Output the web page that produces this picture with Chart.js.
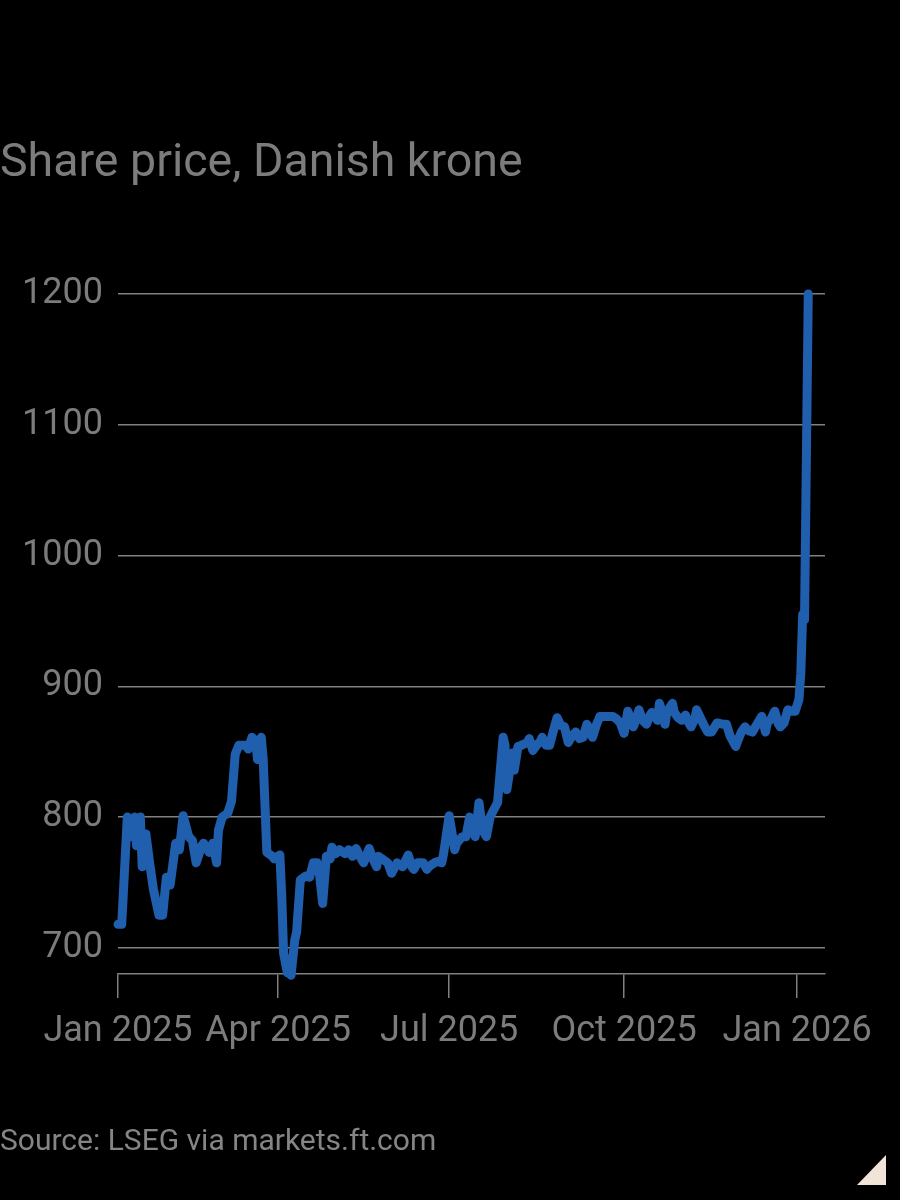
<!DOCTYPE html>
<html>
<head>
<meta charset="utf-8">
<script src="https://cdn.jsdelivr.net/npm/chart.js@4.4.1/dist/chart.umd.min.js"></script>
<style>
  html, body { margin: 0; padding: 0; background: #000; }
  #wrap { position: relative; width: 900px; height: 1200px; background: #000; overflow: hidden; }
  #chart { position: absolute; left: 0; top: 0; }
  .txt { position: absolute; left: 0; font-family: Roboto, "Open Sans", sans-serif; color: #7c7c7c; white-space: nowrap; }
  #title { top: 137px; font-size: 46.5px; line-height: 46px; }
  #source { top: 1125px; font-size: 30px; line-height: 30px; color: #858585; }
  #corner { position: absolute; left: 857px; top: 1155px; width: 29px; height: 30px;
            background: #f1e5da; clip-path: polygon(100% 0, 100% 100%, 0 100%); }
</style>
</head>
<body>
<div id="wrap">
  <canvas id="chart" width="900" height="1200"></canvas>
  <div id="title" class="txt">Share price, Danish krone</div>
  <div id="source" class="txt">Source: LSEG via markets.ft.com</div>
  <div id="corner"></div>
</div>
<script>
  // x positions are days from the start of Jan 2025
  const days = [
    0, 2, 5, 7, 9, 10, 12, 13, 15, 17, 19, 22, 24, 26, 28, 31, 33, 35, 38, 40,
    42, 45, 46, 49, 51, 53, 54, 56, 59, 61, 63, 65, 69, 70, 72, 74, 75, 76, 77, 78,
    80, 83, 84, 87, 88, 89, 91, 92, 93, 95, 96, 98, 101, 103, 105, 107, 108, 110, 112, 114,
    115, 117, 119, 122, 124, 126, 128, 130, 132, 135, 137, 139, 140, 142, 145, 147, 150, 153, 156, 158,
    159, 161, 164, 166, 167, 170, 172, 174, 175, 178, 181, 182, 185, 187, 189, 192, 194, 196, 198, 200,
    201, 204, 207, 208, 209, 212, 213, 215, 217, 220, 221, 223, 225, 227, 228, 230, 232, 234, 236, 238,
    240, 242, 244, 246, 248, 250, 252, 254, 255, 257, 259, 262, 266, 268, 270, 272, 274, 277, 279, 280,
    282, 284, 286, 287, 290, 291, 293, 294, 295, 298, 299, 301, 303, 305, 306, 308, 310, 311, 313, 315,
    317, 319, 322, 325, 327, 329, 332, 333, 335, 337, 339, 341, 343, 346, 348, 349, 351, 353, 355, 356,
    358, 360, 362, 364, 366, 367, 368, 369, 371
  ];
  const prices = [
    718, 718, 800, 785, 800, 778, 800, 762, 787, 765, 745, 725, 725, 754, 748, 780, 775, 801, 785, 782,
    765, 778, 780, 773, 780, 765, 790, 800, 803, 812, 848, 855, 855, 852, 861, 858, 844, 858, 861, 845,
    773, 770, 768, 771, 740, 696, 681, 690, 679, 706, 712, 752, 755, 754, 765, 765, 760, 734, 770, 768,
    777, 772, 775, 772, 775, 770, 776, 770, 765, 776, 768, 762, 770, 768, 765, 757, 765, 762, 771, 762,
    760, 765, 765, 760, 762, 765, 766, 765, 772, 801, 775, 780, 785, 785, 800, 785, 811, 790, 785, 800,
    803, 811, 861, 855, 821, 849, 836, 854, 855, 857, 860, 851, 855, 858, 861, 855, 855, 866, 876, 870,
    869, 857, 862, 865, 860, 861, 871, 866, 861, 870, 877, 877, 877, 875, 872, 864, 881, 869, 877, 882,
    874, 871, 878, 880, 874, 887, 878, 871, 880, 887, 880, 876, 874, 878, 874, 869, 875, 882, 876, 870,
    865, 865, 872, 871, 871, 862, 854, 858, 865, 869, 866, 865, 870, 877, 865, 872, 875, 881, 871, 869,
    872, 882, 881, 881, 890, 910, 955, 951, 1200
  ];
  const tickDays = [0, 86, 178, 272, 365];
  const tickLabels = ["Jan 2025", "Apr 2025", "Jul 2025", "Oct 2025", "Jan 2026"];
  const yTicks = [700, 800, 900, 1000, 1100, 1200];

  const GREY = "#7c7c7c";
  const GRID = "#808080";
  const BLUE = "#1f5fae";

  const points = days.map((d, i) => ({ x: d, y: prices[i] }));

  new Chart(document.getElementById("chart"), {
    type: "line",
    data: {
      datasets: [{
        data: points,
        borderColor: BLUE,
        borderWidth: 9,
        borderJoinStyle: "round",
        borderCapStyle: "round",
        pointRadius: 0,
        tension: 0,
        clip: false,
      }],
    },
    options: {
      responsive: false,
      animation: false,
      events: [],
      layout: { padding: { top: 294, right: 75, left: 0, bottom: 0 } },
      plugins: { legend: { display: false }, tooltip: { enabled: false } },
      scales: {
        x: {
          type: "linear",
          min: 0,
          max: 380,
          afterBuildTicks: (s) => { s.ticks = tickDays.map((v) => ({ value: v })); },
          afterFit: (s) => { s.height = 226; },
          grid: { drawOnChartArea: false, drawTicks: true, tickLength: 24, color: GRID, lineWidth: 1.5 },
          border: { display: true, color: GRID, width: 1.5 },
          ticks: {
            autoSkip: false,
            maxRotation: 0,
            padding: 12,
            color: GREY,
            font: { family: "Roboto", size: 36 },
            callback: (v) => tickLabels[tickDays.indexOf(v)] || "",
          },
        },
        y: {
          min: 680,
          max: 1200,
          afterBuildTicks: (s) => { s.ticks = yTicks.map((v) => ({ value: v })); },
          afterFit: (s) => { s.width = 118; },
          grid: { drawTicks: false, color: GRID, lineWidth: 1.5 },
          border: { display: false },
          ticks: {
            padding: 15,
            color: GREY,
            font: { family: "Roboto", size: 36 },
            callback: (v) => String(v),
          },
        },
      },
    },
  });
</script>
</body>
</html>
